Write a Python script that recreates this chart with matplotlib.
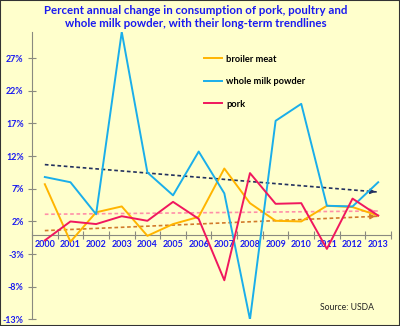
import matplotlib.pyplot as plt
import numpy as np

years = ['2000', '2001', '2002', '2003', '2004', '2005', '2006',
         '2007', '2008', '2009', '2010', '2011', '2012', '2013']
broiler = [7.7, -1.1, 3.4, 4.3, -0.2, 1.6, 2.7, 10.1, 4.8, 2.1, 2.0, 4.4, 4.2, 2.9]
milk = [8.8, 8.0, 3.1, 31.0, 9.5, 6.0, 12.7, 6.3, -13.0, 17.4, 20.0, 4.4, 4.3, 8.0]
pork = [-0.9, 2.0, 1.6, 2.8, 2.1, 5.0, 2.4, -7.0, 9.4, 4.7, 4.8, -2.2, 5.5, 2.9]

# trendline start (2000) and end (2013) values
trend_milk = [10.7, 6.5]
trend_pork = [3.1, 3.6]
trend_broiler = [0.6, 2.8]

yticks = [-13, -8, -3, 2, 7, 12, 17, 22, 27]

bg = '#FFFFCC'
blue_txt = '#1A1AF0'

fig = plt.figure(figsize=(4.0, 3.26), dpi=100, facecolor=bg)
ax = fig.add_axes([0.08, 0.02, 0.8975, 0.882])
ax.set_facecolor(bg)

x = np.arange(len(years))

# trendlines with arrow heads
for vals, col in [(trend_milk, '#22305E'), (trend_pork, '#FF8FA8'), (trend_broiler, '#D27A2A')]:
    ax.plot([x[0], x[-1]], vals, color=col, lw=1.2, ls=(0, (2.2, 1.6)), zorder=2)
    ax.annotate('', xy=(x[-1], vals[1]), xytext=(x[-1] - 0.25, vals[1] + (vals[0] - vals[1]) * 0.25 / 13),
                arrowprops=dict(arrowstyle='-|>', color=col, lw=0.8, mutation_scale=8), zorder=3)

ax.plot(x, broiler, color='#FFB400', lw=1.4, label='broiler meat', zorder=4)
ax.plot(x, milk, color='#1AAEEA', lw=1.4, label='whole milk powder', zorder=4)
ax.plot(x, pork, color='#F0175E', lw=1.4, label='pork', zorder=5)

ax.set_xlim(-0.5, 13.5)
ax.set_ylim(-13, 31)

for s in ['top', 'right']:
    ax.spines[s].set_visible(False)
ax.spines['bottom'].set_position(('data', 0))
ax.spines['bottom'].set_color('#8A8A80')
ax.spines['left'].set_color('#8A8A80')

ax.set_xticks(np.arange(-0.5, 14, 1))
ax.set_xticklabels([])
ax.tick_params(axis='x', which='major', direction='inout', length=6, color='#8A8A80')
ax.set_xticks(x, minor=True)
ax.set_xticklabels(years, minor=True, fontsize=6.4, fontweight='bold', color=blue_txt, family='Lato')
ax.tick_params(axis='x', which='minor', length=0, pad=4)

ax.set_yticks(yticks)
ax.set_yticklabels([f'{v}%' for v in yticks], fontsize=6.4, fontweight='bold', color=blue_txt, family='Lato')
ax.tick_params(axis='y', direction='inout', length=6, color='#8A8A80', pad=3)

leg = ax.legend(loc='upper left', bbox_to_anchor=(0.455, 0.95), frameon=False,
                prop={'family': 'Lato', 'weight': 'bold', 'size': 6.7},
                handlelength=2.0, handletextpad=0.4, labelspacing=1.45)

fig.text(0.49, 0.985, 'Percent annual change in consumption of pork, poultry and\nwhole milk powder, with their long-term trendlines',
         ha='center', va='top', fontsize=8.3, fontweight='bold', color=blue_txt, family='Lato', linespacing=1.22)
fig.text(0.80, 0.05, 'Source: USDA', fontsize=6.2, color='#222222', family='Lato')

# dark border round the picture
fig.patches.append(plt.Rectangle((0, 0), 1, 1, transform=fig.transFigure, fill=False,
                                 edgecolor='#333333', lw=1.5))

fig.savefig('out.png', dpi=100, facecolor=bg)
